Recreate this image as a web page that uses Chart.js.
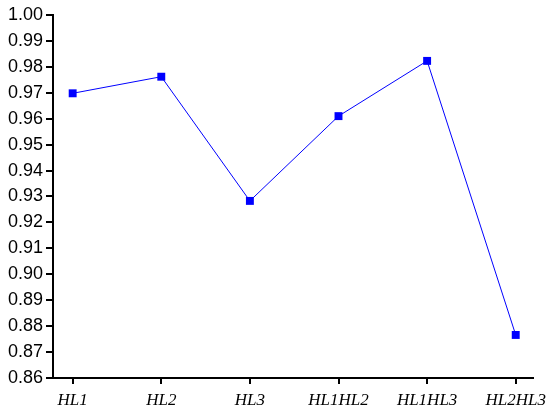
<!DOCTYPE html>
<html>
<head>
<meta charset="utf-8">
<script src="https://cdn.jsdelivr.net/npm/chart.js@4.4.1/dist/chart.umd.min.js"></script>
<style>
    html, body { margin: 0; padding: 0; background: #fff; }
    #wrap { width: 550px; height: 415px; }
</style>
</head>
<body>
<div id="wrap"><canvas id="chart" width="550" height="415"></canvas></div>
<script>
const categories = ['HL1', 'HL2', 'HL3', 'HL1HL2', 'HL1HL3', 'HL2HL3'];
const values = [0.9698, 0.9762, 0.9283, 0.9610, 0.9823, 0.8766];
const yTicks = [0.86, 0.87, 0.88, 0.89, 0.90, 0.91, 0.92, 0.93, 0.94, 0.95, 0.96, 0.97, 0.98, 0.99, 1.00];

const points = values.map((v, i) => ({ x: i, y: v }));

const ctx = document.getElementById('chart').getContext('2d');
new Chart(ctx, {
    type: 'line',
    data: {
        datasets: [
            {
                data: points,
                borderColor: '#0000ff',
                borderWidth: 1,
                pointStyle: 'rect',
                pointRadius: 5.6,
                pointBackgroundColor: '#0000ff',
                pointBorderColor: '#0000ff',
                pointBorderWidth: 0,
                tension: 0,
            },
        ],
    },
    options: {
        responsive: false,
        animation: false,
        layout: { padding: { top: 15, right: 17, left: 0, bottom: 0 } },
        plugins: {
            legend: { display: false },
            tooltip: { enabled: false },
        },
        scales: {
            x: {
                type: 'linear',
                min: -0.222,
                max: 5.195,
                afterFit: (axis) => {
                    axis.height = 37;
                    axis.paddingLeft = 0;
                    axis.paddingRight = 0;
                },
                afterBuildTicks: (axis) => {
                    axis.ticks = categories.map((c, i) => ({ value: i }));
                },
                border: { display: true, color: '#000', width: 2 },
                grid: { drawOnChartArea: false, drawTicks: true, tickLength: 6, color: '#000', lineWidth: 2 },
                ticks: {
                    color: '#000',
                    padding: 6,
                    maxRotation: 0,
                    autoSkip: false,
                    font: { family: 'Liberation Serif', style: 'italic', size: 17 },
                    callback: (v) => categories[v],
                },
            },
            y: {
                min: 0.86,
                max: 1.00,
                afterFit: (axis) => { axis.width = 53; },
                afterBuildTicks: (axis) => {
                    axis.ticks = yTicks.map((t) => ({ value: t }));
                },
                border: { display: true, color: '#000', width: 2 },
                grid: { drawOnChartArea: false, drawTicks: true, tickLength: 7, color: '#000', lineWidth: 2 },
                ticks: {
                    color: '#000',
                    padding: 3,
                    font: { family: 'Liberation Sans', size: 18 },
                    callback: (v) => v.toFixed(2),
                },
            },
        },
    },
});
</script>
</body>
</html>
